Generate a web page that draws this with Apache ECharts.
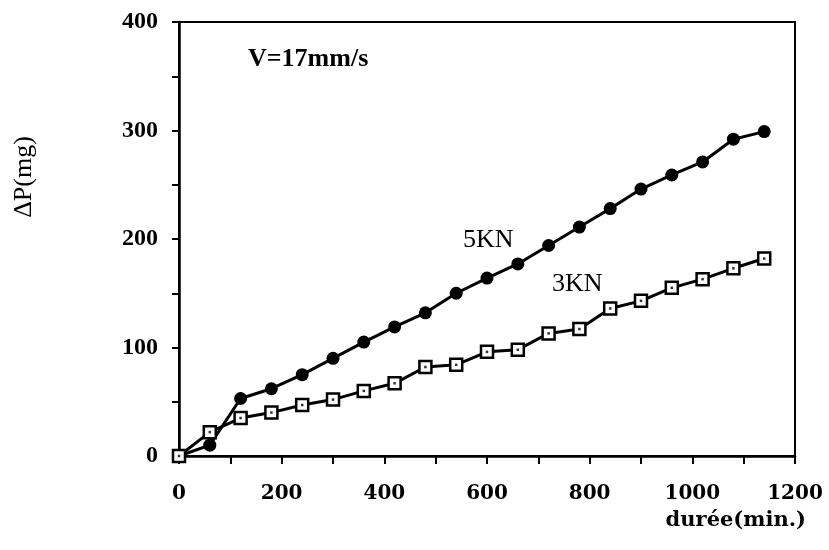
<!DOCTYPE html>
<html>
<head>
<meta charset="utf-8">
<script src="https://cdn.jsdelivr.net/npm/echarts@6/dist/echarts.min.js"></script>
<style>
    html, body { margin: 0; padding: 0; background: #fff; }
    #chart { width: 829px; height: 550px; }
</style>
</head>
<body>
<div id="chart"></div>
<script>
// durée (min.)
var duree = [0, 60, 120, 180, 240, 300, 360, 420, 480, 540, 600, 660, 720, 780, 840, 900, 960, 1020, 1080, 1140];
// ΔP (mg) pour 5KN
var p5kn = [0, 10, 53, 62, 75, 90, 105, 119, 132, 150, 164, 177, 194, 211, 228, 246, 259, 271, 292, 299];
// ΔP (mg) pour 3KN
var p3kn = [0, 22, 35, 40, 47, 52, 60, 67, 82, 84, 96, 98, 113, 117, 136, 143, 155, 163, 173, 182];

function pairs(xs, ys) {
    return xs.map(function (x, i) { return [x, ys[i]]; });
}

var serif = '"Liberation Serif", "DejaVu Serif", serif';
var wide = '"DejaVu Serif", serif';
var chart = echarts.init(document.getElementById('chart'));

var option = {
    animation: false,
    backgroundColor: '#fff',
    grid: {
        left: 179,
        right: 34,
        top: 22,
        bottom: 94,
        show: true,
        borderColor: '#000',
        borderWidth: 2
    },
    xAxis: {
        type: 'value',
        min: 0,
        max: 1200,
        interval: 200,
        axisLine: { lineStyle: { color: '#000', width: 2.5 } },
        axisTick: { length: 8, lineStyle: { color: '#000', width: 2 } },
        minorTick: { show: true, splitNumber: 2, length: 8, lineStyle: { color: '#000', width: 2 } },
        splitLine: { show: false },
        axisLabel: {
            color: '#000',
            fontFamily: wide,
            fontWeight: 'bold',
            fontSize: 20,
            margin: 28,
            formatter: function (v) { return String(v); }
        }
    },
    yAxis: {
        type: 'value',
        min: 0,
        max: 400,
        interval: 100,
        axisLine: { show: true, lineStyle: { color: '#000', width: 2.5 } },
        axisTick: { show: true, length: 7, lineStyle: { color: '#000', width: 2 } },
        minorTick: { show: true, splitNumber: 2, length: 7, lineStyle: { color: '#000', width: 2 } },
        splitLine: { show: false },
        axisLabel: {
            color: '#000',
            fontFamily: serif,
            fontWeight: 'bold',
            fontSize: 24,
            margin: 21
        }
    },
    graphic: [
        {
            type: 'text',
            x: 24,
            y: 177,
            rotation: Math.PI / 2,
            style: {
                text: 'ΔP(mg)', fill: '#000', font: '26px ' + serif,
                textAlign: 'center', textVerticalAlign: 'middle'
            }
        },
        {
            type: 'text',
            x: 806,
            y: 521,
            style: {
                text: 'durée(min.)', fill: '#000', font: 'bold 21px ' + wide,
                textAlign: 'right', textVerticalAlign: 'middle'
            }
        },
        {
            type: 'text',
            x: 248,
            y: 59,
            style: {
                text: 'V=17mm/s', fill: '#000', font: 'bold 26px ' + serif,
                textAlign: 'left', textVerticalAlign: 'middle'
            }
        },
        {
            type: 'text',
            x: 463,
            y: 240,
            style: {
                text: '5KN', fill: '#000', font: '26px ' + serif,
                textAlign: 'left', textVerticalAlign: 'middle'
            }
        },
        {
            type: 'text',
            x: 552,
            y: 284,
            style: {
                text: '3KN', fill: '#000', font: '26px ' + serif,
                textAlign: 'left', textVerticalAlign: 'middle'
            }
        }
    ],
    series: [
        {
            name: '5KN',
            type: 'line',
            data: pairs(duree, p5kn),
            symbol: 'circle',
            symbolSize: 13,
            itemStyle: { color: '#000' },
            lineStyle: { color: '#000', width: 3 },
            z: 3
        },
        {
            name: '3KN',
            type: 'line',
            data: pairs(duree, p3kn),
            symbol: 'rect',
            symbolSize: 12,
            itemStyle: { color: '#fff', borderColor: '#000', borderWidth: 2.5 },
            lineStyle: { color: '#000', width: 3 },
            z: 4
        },
        {
            name: '3KN centre',
            type: 'scatter',
            data: pairs(duree, p3kn),
            symbol: 'rect',
            symbolSize: 2.5,
            itemStyle: { color: '#000' },
            silent: true,
            z: 5
        }
    ]
};

chart.setOption(option);
</script>
</body>
</html>
